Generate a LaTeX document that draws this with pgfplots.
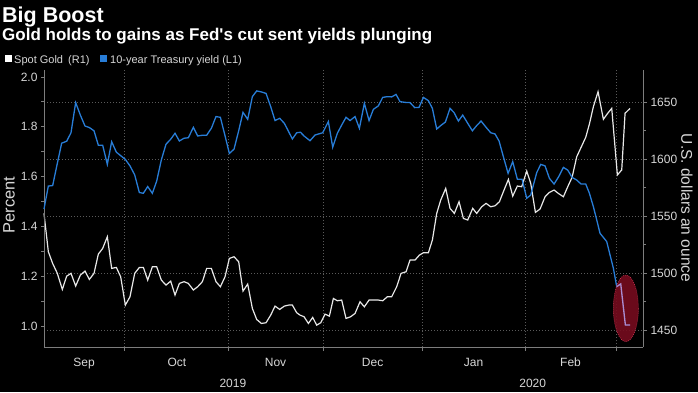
\documentclass[border=0pt]{standalone}
\usepackage{pgfplots}
\pgfplotsset{compat=1.18}
\usepackage{fontspec}
\setmainfont{Liberation Sans}
\definecolor{bblue}{RGB}{40,125,215}
\definecolor{goldw}{RGB}{232,232,232}
\definecolor{axgrey}{RGB}{125,125,125}
\definecolor{gridgrey}{RGB}{90,90,90}
\definecolor{lblgrey}{RGB}{215,215,215}
\definecolor{ellred}{RGB}{118,12,30}
\definecolor{ellborder}{RGB}{205,55,85}
\definecolor{lav}{RGB}{170,140,210}
\tikzset{mlab/.style={anchor=base, inner sep=0, text=lblgrey, font=\fontsize{12}{14}\selectfont}}
\begin{document}
\begin{tikzpicture}[x=1pt,y=1pt]
\fill[black] (0,0) rectangle (698,392);
\useasboundingbox (0,0) rectangle (698,392);
% titles
\node[anchor=base west, inner sep=0, text=white, font=\bfseries\fontsize{21.5}{25}\selectfont] at (2,370) {Big Boost};
\node[anchor=base west, inner sep=0, text=white, font=\bfseries\fontsize{17}{20}\selectfont] at (2,352) {Gold holds to gains as Fed\textquotesingle s cut sent yields plunging};
% legend
\fill[white] (5,330) rectangle (12,337);
\node[anchor=base west, inner sep=0, text=lblgrey, font=\fontsize{11}{13}\selectfont] at (14,329) {Spot Gold};
\node[anchor=base west, inner sep=0, text=lblgrey, font=\fontsize{11}{13}\selectfont] at (68,329) {(R1)};
\fill[bblue] (100,330) rectangle (107,337);
\node[anchor=base west, inner sep=0, text=lblgrey, font=\fontsize{11}{13}\selectfont] at (110,329) {10-year Treasury yield (L1)};
% axis titles
\node[rotate=90, inner sep=0, text=lblgrey, font=\fontsize{16.5}{19}\selectfont] at (9,187) {Percent};
\node[rotate=-90, inner sep=0, text=lblgrey, font=\fontsize{15.5}{18}\selectfont] at (687,184) {U.S. dollars an ounce};

% gold axis (right)
\begin{axis}[
  at={(44pt,45pt)}, anchor=south west,
  width=599pt, height=277pt, scale only axis,
  xmin=5.1, xmax=190.3, ymin=1435.1, ymax=1678,
  axis x line*=bottom, axis y line*=right,
  axis line style={draw=axgrey, line width=0.8pt},
  xtick={30,62,91.4,122,153.8,182}, xticklabels={},
  ytick={1450,1500,1550,1600,1650},
  yticklabels={1450,1500,1550,1600,1650},
  minor ytick={1475,1525,1575,1625},
  tick align=outside,
  major tick length=4pt, minor tick length=3pt,
  tick style={draw=axgrey, line width=0.8pt},
  xmajorgrids, ymajorgrids,
  grid style={draw=gridgrey, dash pattern=on 1pt off 2pt, line width=0.6pt},
  yticklabel style={font=\fontsize{12}{14}\selectfont, text=lblgrey},
  clip=false,
]
\addplot[goldw, line width=1.2pt] table {
5.10 1552.3
6.44 1518.7
7.78 1508.4
9.22 1499.7
10.77 1485.6
12.11 1497.3
13.45 1499.7
14.89 1488.6
16.34 1498.2
17.78 1501.7
19.12 1494.4
20.56 1499.7
21.90 1516.6
23.24 1521.6
24.68 1531.8
26.02 1504.1
27.47 1504.9
28.81 1496.7
30.25 1471.9
31.69 1479.2
33.14 1499.7
34.58 1504.9
35.82 1504.9
37.16 1493.8
38.60 1505.5
39.94 1505.5
41.38 1493.8
42.82 1489.4
44.27 1492.9
45.61 1480.7
46.95 1490.9
48.39 1492.4
49.73 1490.9
51.28 1485.1
52.62 1488.0
54.06 1492.4
55.40 1504.1
56.84 1504.1
58.28 1492.4
59.63 1488.0
61.07 1496.7
62.41 1512.8
63.85 1514.3
65.29 1509.9
66.63 1484.2
68.08 1490.3
69.52 1469.0
70.86 1459.3
72.30 1455.8
73.75 1456.4
75.19 1463.1
76.53 1471.0
77.97 1468.1
79.41 1471.0
80.76 1471.9
81.89 1471.9
83.23 1465.2
84.26 1463.1
85.50 1461.7
86.84 1455.8
88.18 1461.1
89.41 1454.3
90.65 1456.4
91.99 1464.0
93.33 1462.2
94.57 1477.7
95.80 1475.7
97.14 1476.3
98.48 1460.2
99.93 1461.7
101.27 1464.6
102.81 1474.8
104.15 1470.4
105.60 1476.3
106.94 1476.3
108.48 1476.3
109.82 1475.7
111.26 1479.2
112.60 1479.2
114.15 1488.0
115.49 1499.7
117.04 1501.1
118.27 1511.4
119.82 1511.4
121.16 1515.7
122.40 1517.8
123.94 1517.8
125.18 1528.9
126.52 1552.3
127.76 1564.0
129.30 1574.2
130.64 1556.7
131.98 1552.3
133.42 1562.5
134.76 1547.9
136.10 1546.5
137.65 1556.7
138.89 1552.3
140.43 1558.1
141.77 1561.1
143.22 1558.1
144.56 1559.0
145.90 1562.5
147.34 1572.8
148.68 1582.1
150.02 1567.5
151.46 1576.3
152.80 1575.7
154.35 1589.4
155.59 1578.6
157.03 1553.2
158.47 1556.1
160.02 1566.9
161.36 1570.7
162.80 1572.8
164.14 1569.8
165.69 1566.9
167.03 1575.7
168.37 1583.9
169.81 1602.0
171.15 1610.2
172.59 1619.0
173.73 1630.7
174.96 1645.9
176.40 1659.0
178.05 1634.8
179.39 1640.1
180.63 1644.4
182.38 1586.0
183.72 1590.4
184.75 1640.1
186.30 1644.4
};
% month labels
\node[mlab, yshift=-19pt] at (axis cs:17.5,1435.1) {Sep};
\node[mlab, yshift=-19pt] at (axis cs:46.2,1435.1) {Oct};
\node[mlab, yshift=-19pt] at (axis cs:76.7,1435.1) {Nov};
\node[mlab, yshift=-19pt] at (axis cs:106.7,1435.1) {Dec};
\node[mlab, yshift=-19pt] at (axis cs:137.9,1435.1) {Jan};
\node[mlab, yshift=-19pt] at (axis cs:167.9,1435.1) {Feb};
\node[mlab, yshift=-40pt] at (axis cs:63.5,1435.1) {2019};
\node[mlab, yshift=-40pt] at (axis cs:156.2,1435.1) {2020};
\draw[axgrey, line width=0.8pt] (axis cs:122,1435.1) ++(0,-25.5pt) -- ++(0,-19.5pt);
\end{axis}

% yield axis (left)
\begin{axis}[
  at={(44pt,45pt)}, anchor=south west,
  width=599pt, height=277pt, scale only axis,
  xmin=5.1, xmax=190.3, ymin=0.9157, ymax=2.028,
  axis x line=none, axis y line*=left,
  axis line style={draw=axgrey, line width=0.8pt},
  ytick={1.0,1.2,1.4,1.6,1.8,2.0},
  yticklabels={1.0,1.2,1.4,1.6,1.8,2.0},
  minor ytick={1.1,1.3,1.5,1.7,1.9},
  tick align=outside,
  major tick length=3pt, minor tick length=3pt,
  tick style={draw=axgrey, line width=0.8pt},
  yticklabel style={font=\fontsize{12}{14}\selectfont, text=lblgrey},
  clip=false,
]
\addplot[bblue, line width=1.3pt] table {
5.10 1.470
6.44 1.562
7.78 1.564
9.22 1.653
10.56 1.734
12.11 1.742
13.45 1.776
14.89 1.897
16.34 1.847
17.78 1.803
19.12 1.797
20.56 1.784
21.90 1.726
23.24 1.726
24.68 1.649
26.02 1.740
27.47 1.698
28.81 1.684
30.25 1.669
31.69 1.643
33.14 1.607
34.58 1.536
35.82 1.533
37.16 1.560
38.60 1.533
39.94 1.582
41.38 1.667
42.82 1.730
44.27 1.750
45.61 1.774
46.95 1.743
48.39 1.754
49.73 1.756
51.28 1.798
52.62 1.763
54.06 1.766
55.40 1.766
56.84 1.794
58.28 1.841
59.63 1.838
61.07 1.764
62.41 1.693
63.85 1.710
65.29 1.784
66.63 1.858
68.08 1.830
69.52 1.921
70.86 1.944
72.30 1.940
73.75 1.934
75.19 1.881
76.53 1.825
77.97 1.834
79.41 1.814
80.76 1.780
81.89 1.751
83.23 1.776
84.40 1.778
85.50 1.763
87.35 1.744
88.90 1.767
91.27 1.776
93.02 1.821
94.36 1.718
95.80 1.774
97.14 1.807
98.48 1.838
99.72 1.825
101.27 1.841
102.61 1.794
104.15 1.894
105.60 1.825
106.94 1.870
108.48 1.884
109.82 1.918
111.26 1.921
112.60 1.920
113.94 1.930
115.18 1.901
116.73 1.898
118.27 1.897
119.72 1.877
121.06 1.878
122.40 1.918
123.94 1.905
125.18 1.874
126.52 1.791
127.76 1.805
129.20 1.819
130.64 1.874
131.88 1.857
133.22 1.823
134.56 1.847
136.10 1.814
137.55 1.784
138.89 1.805
140.23 1.823
141.77 1.798
143.22 1.776
144.56 1.771
145.79 1.743
147.13 1.680
148.58 1.613
150.02 1.660
151.46 1.589
152.91 1.589
154.35 1.513
155.59 1.526
156.41 1.566
157.44 1.616
158.68 1.649
160.02 1.643
161.36 1.593
162.80 1.570
164.24 1.600
165.69 1.637
167.03 1.626
168.37 1.597
169.81 1.586
171.15 1.570
172.59 1.570
173.73 1.533
174.96 1.479
175.99 1.426
177.02 1.372
177.84 1.359
179.08 1.339
180.11 1.285
181.14 1.232
182.17 1.158
183.41 1.169
184.85 1.004
186.30 1.004
};
\fill[ellred, fill opacity=0.9] (axis cs:185.0,1.071) ellipse [x radius=12.5pt, y radius=33.3pt];
\draw[ellborder, line width=0.6pt, dash pattern=on 0.8pt off 1.2pt] (axis cs:185.0,1.071) ellipse [x radius=12.5pt, y radius=33.3pt];
\addplot[lav, line width=1.3pt] table {
182.17 1.158
183.41 1.169
184.85 1.004
186.30 1.004
};
\end{axis}
\end{tikzpicture}
\end{document}
